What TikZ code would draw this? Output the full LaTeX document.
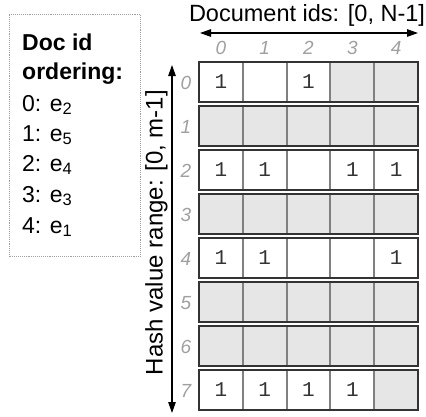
\documentclass[tikz,border=0pt]{standalone}
\usepackage{fontspec}
\setmainfont{Liberation Sans}
\newfontfamily\cellfont{Liberation Mono}
\usetikzlibrary{arrows.meta}
\definecolor{cellgray}{HTML}{E6E6E6}
\definecolor{labgray}{HTML}{A0A0A0}
\definecolor{darkline}{HTML}{333333}
\definecolor{sepgray}{HTML}{808080}
\definecolor{boxdot}{HTML}{A0A0A0}
\newcommand\sbs[1]{\raisebox{-3pt}{\fontsize{16.5}{16.5}\selectfont #1}}
\begin{document}
\begin{tikzpicture}[x=1pt,y=-1pt,
  cellbox/.style={rectangle, inner sep=0pt, outer sep=0pt, minimum width=43.8pt, minimum height=40pt, draw=none, text=darkline, font=\cellfont\fontsize{21}{21}\selectfont},
  kind o/.style={fill=white, node contents={1}},
  kind w/.style={fill=white, node contents={}},
  kind g/.style={fill=cellgray, node contents={}},
  sepline/.style={draw=sepgray, line width=2pt},
  rowbox/.style={rectangle, inner sep=0pt, outer sep=0pt, minimum width=219pt, minimum height=40pt, draw=darkline, line width=1.6pt},
  axlab/.style={text=labgray, font=\itshape\fontsize{19}{19}\selectfont, inner sep=0pt},
  legtext/.style={anchor=base west, inner sep=0pt, font=\fontsize{23}{23}\selectfont},
  legbold/.style={legtext, font=\bfseries\fontsize{23}{23}\selectfont},
  bigtext/.style={inner sep=0pt, font=\fontsize{23.5}{23.5}\selectfont},
  axarrow/.style={draw=black, line width=1.2pt, {Triangle[length=11pt,width=7.5pt]}-{Triangle[length=11pt,width=7.5pt]}}
]
\useasboundingbox (0,0) rectangle (426,416);

% legend box
\node[draw=boxdot, line width=1.1pt, densely dotted, rectangle, inner sep=0pt, minimum width=131pt, minimum height=242pt, anchor=north west] (legend) at (9,14) {};
\node[legbold] (l1) at (22,50) {Doc id};
\node[legbold] (l2) at (22,79) {ordering:};
\node[legtext] (l3) at (22,111) {0: e\sbs{2}};
\node[legtext] (l4) at (22,141.5) {1: e\sbs{5}};
\node[legtext] (l5) at (22,171) {2: e\sbs{4}};
\node[legtext] (l6) at (22,202) {3: e\sbs{3}};
\node[legtext] (l7) at (22,233.5) {4: e\sbs{1}};

% header and arrows
\node[bigtext, anchor=base] (hdr) at (307,21.5) {Document ids: [0, N-1]};
\coordinate (hl) at (200,33);
\coordinate (hr) at (418,33);
\draw[axarrow] (hl) -- (hr);
\coordinate (vt) at (172,65);
\coordinate (vb) at (172,413);
\draw[axarrow] (vt) -- (vb);
\node[bigtext, font=\fontsize{24}{24}\selectfont, rotate=90, anchor=base] (hash) at (162.5,232.5) {Hash value range: [0, m-1]};

% column labels
\foreach \k in {0,...,4} {
  \node[axlab, anchor=base] (cl\k) at ({199+43.8*(\k+0.5)},54.5) {\k};
}

% grid rows
\foreach \r/\a/\b/\c/\d/\e in {0/o/w/o/g/g, 1/g/g/g/g/g, 2/o/o/w/o/o, 3/g/g/g/g/g, 4/o/o/w/w/o, 5/g/g/g/g/g, 6/g/g/g/g/g, 7/o/o/o/o/g} {
  \node[axlab] (rl\r) at (186,{83+44*\r}) {\r};
  \foreach \t [count=\k from 0] in {\a,\b,\c,\d,\e} {
    \node (c\r-\k) at ({199+43.8*(\k+0.5)},{82+44*\r}) [cellbox, kind \t];
  }
  \foreach \k in {0,...,3} {
    \draw[sepline] (c\r-\k.north east) -- (c\r-\k.south east);
  }
  \node[rowbox] (row\r) at (308.5,{82+44*\r}) {};
}
\end{tikzpicture}
\end{document}
